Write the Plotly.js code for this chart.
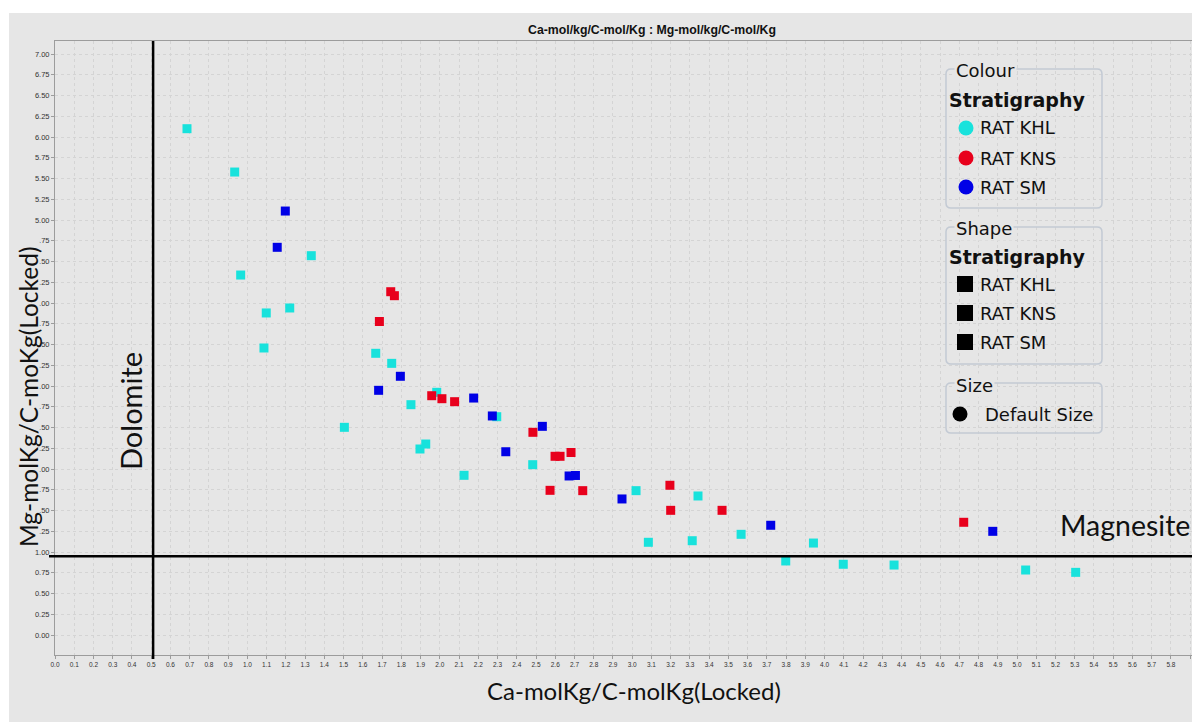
<!DOCTYPE html>
<html>
<head>
<meta charset="utf-8">
<script src="https://cdn.plot.ly/plotly-3.0.1.min.js"></script>
<style>
  html, body { margin: 0; padding: 0; background: #ffffff; }
  #chart { width: 1192px; height: 722px; }
</style>
</head>
<body>
<div id="chart"></div>
<script>
// ---------------- data ----------------
const khlX = [0.686, 0.934, 0.965, 1.332, 1.220, 1.098, 1.086, 1.667, 1.750, 1.984, 1.850, 1.504, 1.927, 1.897, 2.126, 2.296, 2.483, 3.020, 3.342, 3.084, 3.312, 3.566, 3.942, 3.798, 4.097, 4.361, 5.045, 5.305];
const khlY = [6.100, 5.578, 4.337, 4.570, 3.940, 3.880, 3.458, 3.394, 3.273, 2.924, 2.775, 2.502, 2.301, 2.241, 1.924, 2.630, 2.052, 1.739, 1.675, 1.117, 1.136, 1.213, 1.108, 0.892, 0.852, 0.843, 0.783, 0.755];

const knsX = [1.745, 1.764, 1.686, 1.958, 2.011, 2.077, 2.484, 2.599, 2.625, 2.682, 2.573, 2.743, 3.196, 3.200, 3.467, 4.723];
const knsY = [4.136, 4.088, 3.777, 2.883, 2.847, 2.811, 2.442, 2.153, 2.153, 2.199, 1.743, 1.739, 1.804, 1.502, 1.502, 1.358];

const smX = [1.197, 1.155, 1.795, 1.682, 2.176, 2.273, 2.533, 2.343, 2.672, 2.705, 2.947, 3.720, 4.874];
const smY = [5.108, 4.671, 3.117, 2.948, 2.855, 2.639, 2.514, 2.208, 1.916, 1.922, 1.639, 1.322, 1.249];

const seriesNames = ["RAT KHL", "RAT KNS", "RAT SM"];
const seriesColors = ["#18e2dc", "#e8001c", "#0000e6"];

const dolomiteX = 0.51;     // vertical reference line (Ca ratio)
const magnesiteY = 0.95;    // horizontal reference line (Mg ratio)

const chartTitle = "Ca-mol/kg/C-mol/Kg : Mg-mol/kg/C-mol/Kg";
const xTitle = "Ca-molKg/C-molKg(Locked)";
const yTitle = "Mg-molKg/C-moKg(Locked)";

// ---------------- layout helpers (pixel -> paper) ----------------
const W = 1192, H = 722;
const M = {l: 55, r: 0, t: 41, b: 67};
const PW = W - M.l - M.r, PH = H - M.t - M.b;
const px = x => (x - M.l) / PW;
const py = y => (H - M.b - y) / PH;

const bg = "#e6e6e6";
const traces = [
  {x: khlX, y: khlY, name: seriesNames[0], color: seriesColors[0]},
  {x: knsX, y: knsY, name: seriesNames[1], color: seriesColors[1]},
  {x: smX,  y: smY,  name: seriesNames[2], color: seriesColors[2]}
].map(s => ({
  type: "scatter", mode: "markers", x: s.x, y: s.y, name: s.name,
  marker: {symbol: "square", size: 9, color: s.color, line: {width: 0}},
  showlegend: false, hoverinfo: "x+y+name"
}));

function roundRect(x0, y0, x1, y1, r) {
  const p = (x, y) => px(x).toFixed(5) + "," + py(y).toFixed(5);
  return "M" + p(x0 + r, y0) + " L" + p(x1 - r, y0) + " Q" + p(x1, y0) + " " + p(x1, y0 + r) +
         " L" + p(x1, y1 - r) + " Q" + p(x1, y1) + " " + p(x1 - r, y1) +
         " L" + p(x0 + r, y1) + " Q" + p(x0, y1) + " " + p(x0, y1 - r) +
         " L" + p(x0, y0 + r) + " Q" + p(x0, y0) + " " + p(x0 + r, y0) + " Z";
}

const boxLine = {color: "#c3cad4", width: 1.5};
const shapes = [
  // outer grey panel
  {type: "rect", xref: "paper", yref: "paper", x0: px(9), x1: px(1192), y0: py(722), y1: py(13),
   fillcolor: bg, line: {width: 0}, layer: "below"},
  // the y title hides the leading digits of the tick labels in the reference
  {type: "rect", xref: "paper", yref: "paper", x0: px(30), x1: px(39.5), y0: py(541), y1: py(232),
   fillcolor: bg, line: {width: 0}, layer: "above"},
  // Dolomite line
  {type: "line", xref: "x", yref: "paper", x0: dolomiteX, x1: dolomiteX, y0: py(659), y1: 1,
   line: {color: "#000000", width: 2.5}},
  // Magnesite line
  {type: "line", xref: "paper", yref: "y", x0: px(49), x1: 1, y0: magnesiteY, y1: magnesiteY,
   line: {color: "#000000", width: 2.5}},
  // legend boxes
  {type: "path", xref: "paper", yref: "paper", path: roundRect(946, 69, 1102, 208, 5), line: boxLine},
  {type: "path", xref: "paper", yref: "paper", path: roundRect(946, 227, 1102, 364, 5), line: boxLine},
  {type: "path", xref: "paper", yref: "paper", path: roundRect(946, 383, 1102, 433, 5), line: boxLine}
];

// legend colour circles
const itemY1 = [128, 158, 187];
seriesColors.forEach((c, i) => {
  shapes.push({type: "circle", xref: "paper", yref: "paper",
    x0: px(958.5), x1: px(973.5), y0: py(itemY1[i] + 7.5), y1: py(itemY1[i] - 7.5),
    fillcolor: c, line: {width: 0}});
});
// legend shape squares
const itemY2 = [284, 313, 342];
itemY2.forEach(yv => {
  shapes.push({type: "rect", xref: "paper", yref: "paper",
    x0: px(957), x1: px(973), y0: py(yv + 8), y1: py(yv - 8),
    fillcolor: "#000000", line: {width: 0}});
});
// size circle
shapes.push({type: "circle", xref: "paper", yref: "paper",
  x0: px(952.5), x1: px(967.5), y0: py(421.5), y1: py(406.5),
  fillcolor: "#000000", line: {width: 0}});

const legFont = {family: "DejaVu Sans", size: 18, color: "#111111"};
function legText(text, x, y, extra) {
  return Object.assign({xref: "paper", yref: "paper", x: px(x), y: py(y), xanchor: "left", yanchor: "middle",
    text: text, showarrow: false, font: legFont, borderpad: 0}, extra || {});
}

const annotations = [
  legText("Colour", 954, 70, {bgcolor: bg, borderpad: 1}),
  legText("<b>Stratigraphy</b>", 948, 100, {font: Object.assign({}, legFont, {size: 19})}),
  legText(seriesNames[0], 979, itemY1[0]),
  legText(seriesNames[1], 979, itemY1[1]),
  legText(seriesNames[2], 979, itemY1[2]),
  legText("Shape", 954, 228, {bgcolor: bg, borderpad: 1}),
  legText("<b>Stratigraphy</b>", 948, 257, {font: Object.assign({}, legFont, {size: 19})}),
  legText(seriesNames[0], 979, itemY2[0]),
  legText(seriesNames[1], 979, itemY2[1]),
  legText(seriesNames[2], 979, itemY2[2]),
  legText("Size", 954, 385, {bgcolor: bg, borderpad: 1}),
  legText("Default Size", 984, 414),
  // axis titles
  {xref: "paper", yref: "paper", x: px(28), y: py(397), xanchor: "center", yanchor: "middle",
   text: yTitle, textangle: -90, showarrow: false,
   font: {family: "Lato", size: 24.5, color: "#111111"}},
  {xref: "paper", yref: "paper", x: px(634), y: py(690), xanchor: "center", yanchor: "middle",
   text: xTitle, showarrow: false,
   font: {family: "Lato", size: 24, color: "#111111"}},
  // region labels
  {xref: "paper", yref: "paper", x: px(130), y: py(411), xanchor: "center", yanchor: "middle",
   text: "Dolomite", textangle: -90, showarrow: false,
   font: {family: "Lato", size: 29, color: "#111111"}},
  {xref: "paper", yref: "paper", x: px(1125), y: py(525), xanchor: "center", yanchor: "middle",
   text: "Magnesite", showarrow: false,
   font: {family: "Lato", size: 28.5, color: "#111111"}}
];

const layout = {
  width: W, height: H, autosize: false,
  margin: {l: M.l, r: M.r, t: M.t, b: M.b, pad: 0},
  paper_bgcolor: "#ffffff",
  plot_bgcolor: bg,
  title: {text: "<b>" + chartTitle + "</b>", xref: "paper", x: px(652), xanchor: "center",
          yref: "container", y: 1 - 30 / H, yanchor: "middle",
          font: {family: "Liberation Sans", size: 12.3, color: "#111111"}},
  xaxis: {
    range: [0, PW / 192.4], dtick: 0.1, tick0: 0, tickformat: ".1f",
    showgrid: true, gridcolor: "#d4d4d4", griddash: "dot", gridwidth: 1,
    zeroline: false, showline: true, linecolor: "#9c9c9c", linewidth: 1, mirror: true,
    ticks: "outside", ticklen: 3, tickcolor: "#9c9c9c",
    tickfont: {family: "Liberation Sans", size: 6.5, color: "#333333"}
  },
  yaxis: {
    range: [(635 - 655) / 83, (635 - 41) / 83], dtick: 0.25, tick0: 0, tickformat: ".2f",
    showgrid: true, gridcolor: "#d4d4d4", griddash: "dot", gridwidth: 1,
    zeroline: false, showline: true, linecolor: "#9c9c9c", linewidth: 1, mirror: true,
    ticks: "outside", ticklen: 3, tickcolor: "#9c9c9c",
    tickfont: {family: "Liberation Sans", size: 7.5, color: "#333333"}
  },
  shapes: shapes,
  annotations: annotations,
  showlegend: false
};

Plotly.newPlot("chart", traces, layout, {displayModeBar: false, staticPlot: true});
</script>
</body>
</html>
